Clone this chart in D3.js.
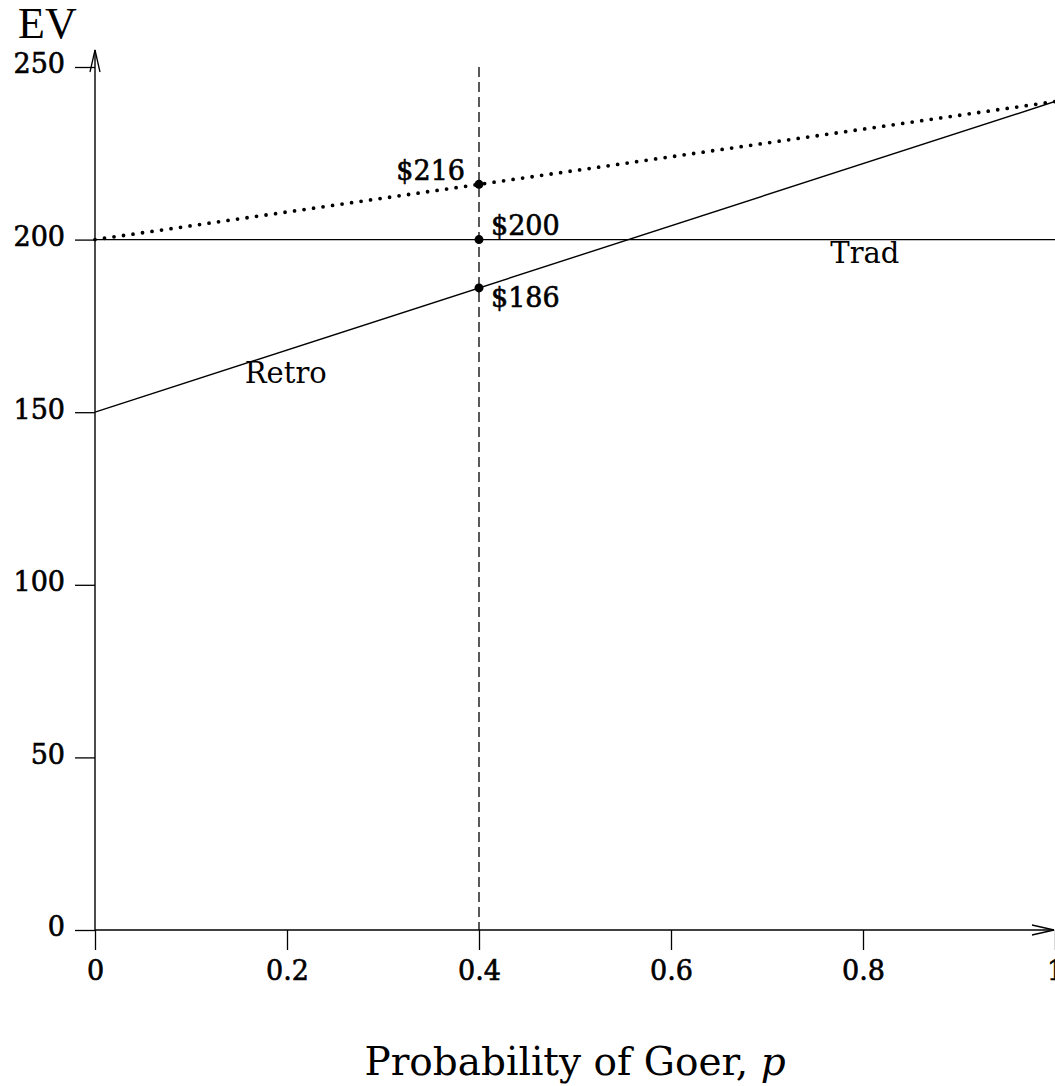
<!DOCTYPE html>
<html>
<head>
<meta charset="utf-8">
<script src="https://cdn.jsdelivr.net/npm/d3@7"></script>
<style>
  body { margin: 0; background: #fff; }
  text { font-family: "DejaVu Serif", "Liberation Serif", serif; fill: #000; }
  .heavy { stroke: #000; stroke-width: 0.6px; }
</style>
</head>
<body>
<script>
const width = 1055, height = 1086;

// data
const pValues = [0, 1];
const tradEV = [200, 200];
const retroEV = [150, 240];
const perfectEV = [200, 240];
const markP = 0.4;
const markValues = [216, 200, 186];
const markLabels = ['$216', '$200', '$186'];
const xTicks = [0, 0.2, 0.4, 0.6, 0.8, 1];
const yTicks = [0, 50, 100, 150, 200, 250];

const x = d3.scaleLinear().domain([0, 1]).range([95, 1055]);
const y = d3.scaleLinear().domain([0, 250]).range([930, 67]);

const svg = d3.select('body').append('svg')
    .attr('width', width)
    .attr('height', height);

// axes
const yAxis = svg.append('g')
    .attr('transform', `translate(${x(0)},0)`)
    .call(d3.axisLeft(y).tickValues(yTicks).tickSize(20).tickSizeOuter(0).tickPadding(10));
yAxis.select('.domain').remove();
yAxis.selectAll('text').attr('class', 'heavy').style('font-size', '27px').attr('dy', '0.22em');
yAxis.selectAll('line').attr('stroke-width', 1.3);

const xAxis = svg.append('g')
    .attr('transform', `translate(0,${y(0)})`)
    .call(d3.axisBottom(x).tickValues(xTicks).tickSize(20).tickSizeOuter(0).tickPadding(11)
        .tickFormat(d => d === 0 || d === 1 ? d3.format('d')(d) : d3.format('.1f')(d)));
xAxis.select('.domain').remove();
xAxis.selectAll('text').attr('class', 'heavy').style('font-size', '27px');
xAxis.selectAll('line').attr('stroke-width', 1.3);

// axis lines with open arrowheads
svg.append('line')
    .attr('x1', x(0)).attr('y1', y(0)).attr('x2', x(0)).attr('y2', 50)
    .attr('stroke', '#000').attr('stroke-width', 1.4);
svg.append('path')
    .attr('d', `M${x(0) - 5},${72} L${x(0)},${50} L${x(0) + 5},${72}`)
    .attr('fill', 'none').attr('stroke', '#000').attr('stroke-width', 1.3);
svg.append('line')
    .attr('x1', x(0)).attr('y1', y(0)).attr('x2', 1054).attr('y2', y(0))
    .attr('stroke', '#000').attr('stroke-width', 1.4);
svg.append('path')
    .attr('d', `M${1032},${y(0) - 5} L${1054},${y(0)} L${1032},${y(0) + 5}`)
    .attr('fill', 'none').attr('stroke', '#000').attr('stroke-width', 1.3);

const line = d3.line().x(d => x(d[0])).y(d => y(d[1]));

// vertical dashed line at p = 0.4
svg.append('line')
    .attr('x1', x(markP)).attr('x2', x(markP))
    .attr('y1', y(250)).attr('y2', y(0))
    .attr('stroke', '#000').attr('stroke-width', 1.3)
    .attr('stroke-dasharray', '10 5');

svg.append('path')
    .attr('d', line(pValues.map((p, i) => [p, tradEV[i]])))
    .attr('fill', 'none').attr('stroke', '#000').attr('stroke-width', 1.4);
svg.append('path')
    .attr('d', line(pValues.map((p, i) => [p, retroEV[i]])))
    .attr('fill', 'none').attr('stroke', '#000').attr('stroke-width', 1.4);
svg.append('path')
    .attr('d', line(pValues.map((p, i) => [p, perfectEV[i]])))
    .attr('fill', 'none').attr('stroke', '#000').attr('stroke-width', 3.8)
    .attr('stroke-linecap', 'round')
    .attr('stroke-dasharray', '0 9.6');

// points at p = 0.4
svg.selectAll('circle.mark')
    .data(markValues)
    .enter().append('circle')
    .attr('class', 'mark')
    .attr('cx', x(markP))
    .attr('cy', d => y(d))
    .attr('r', 4.5)
    .attr('fill', '#000');

const labelPos = [
    { dx: -14, dy: -4, anchor: 'end' },
    { dx: 12, dy: -5, anchor: 'start' },
    { dx: 12, dy: 19, anchor: 'start' }
];
svg.selectAll('text.mark')
    .data(markValues)
    .enter().append('text')
    .attr('class', 'mark heavy')
    .attr('x', (d, i) => x(markP) + labelPos[i].dx)
    .attr('y', (d, i) => y(d) + labelPos[i].dy)
    .attr('text-anchor', (d, i) => labelPos[i].anchor)
    .style('font-size', '27px')
    .text((d, i) => markLabels[i]);

// line labels
svg.append('text')
    .attr('x', x(0.766)).attr('y', y(200) + 23)
    .style('font-size', '29px')
    .text('Trad');
svg.append('text')
    .attr('x', x(0.156)).attr('y', y(160) + 5)
    .style('font-size', '29px')
    .text('Retro');

// axis titles
svg.append('text')
    .attr('x', 18).attr('y', 38)
    .style('font-size', '44px')
    .style('font-family', '"Liberation Serif", serif')
    .text('EV');
const xt = svg.append('text')
    .attr('x', 575).attr('y', 1075)
    .attr('text-anchor', 'middle')
    .style('font-size', '39px');
xt.append('tspan').text('Probability of Goer, ');
xt.append('tspan').style('font-style', 'italic').text('p');
</script>
</body>
</html>
